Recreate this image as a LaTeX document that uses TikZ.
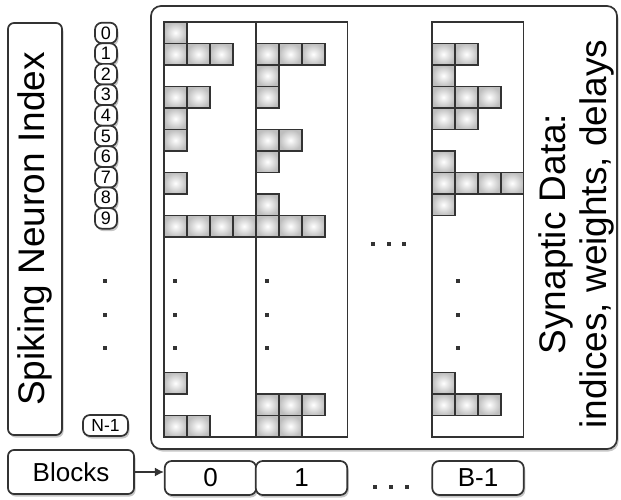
\documentclass[tikz,border=0pt]{standalone}
\usepackage{fontspec}
\setmainfont{Liberation Sans}
\usepackage{tikz}
\usetikzlibrary{arrows.meta,shadows}
\definecolor{EdgeGray}{RGB}{51,51,51}
\definecolor{CellGray}{RGB}{190,190,190}

\begin{document}
\begin{tikzpicture}[x=1pt,y=-1pt,>=Latex,
  rbox/.style={draw=EdgeGray,line width=1.7pt,rounded corners=6pt,fill=white,
    drop shadow={shadow xshift=1.5pt,shadow yshift=-2.5pt,opacity=0.45}},
  cell/.style={draw=EdgeGray,line width=1.6pt,inner color=white,outer color=CellGray},
  blockframe/.style={draw=EdgeGray,line width=1.7pt}]
  \useasboundingbox (0,0) rectangle (621,500);
  % synaptic data panel
  \path[rbox,rounded corners=10pt] (151,6) rectangle (617,449);
  \node[rbox,rotate=90,minimum width=412pt,minimum height=54pt,
    font=\fontsize{37}{40}\selectfont] (index) at (35,229) {Spiking Neuron Index};
  \foreach \i in {0,...,9}
    \node[rbox,minimum width=22pt,minimum height=20.6pt,inner sep=0pt,rounded corners=7pt,
      font=\fontsize{18}{18}\selectfont] (n\i) at (106,{33+20.6*\i}) {\i};
  \node[rbox,minimum width=45pt,minimum height=21pt,inner sep=0pt,rounded corners=7pt,
    font=\fontsize{17.5}{18}\selectfont] (nlast) at (105.5,425.5) {N-1};
  % blocks
  \foreach \bx in {164,256,432}
    \draw[blockframe] (\bx,22) rectangle ++(91.5,415);
  % synapse cells, rows counted from the top
  \foreach \bx/\r/\n in {164/0/1,164/1/3,164/3/2,164/4/1,164/5/1,164/7/1,164/9/4,
      256/1/3,256/2/1,256/3/1,256/5/2,256/6/1,256/8/1,256/9/3,
      432/1/2,432/2/1,432/3/3,432/4/2,432/6/1,432/7/4,432/8/1}
    \foreach \k in {1,...,\n}
      \shade[cell] ({\bx+(\k-1)*22.9},{22+21.5*\r}) rectangle ++(22.9,21.5);
  % last rows, counted from the bottom
  \foreach \bx/\r/\n in {164/3/1,164/1/2,256/2/3,256/1/2,432/3/1,432/2/3}
    \foreach \k in {1,...,\n}
      \shade[cell] ({\bx+(\k-1)*22.9},{437-21.5*\r}) rectangle ++(22.9,21.5);
  % dots
  \foreach \x in {105,175,267,458}
    \foreach \y in {281,315,348}
      \fill[EdgeGray] (\x-1.7,\y-1.7) rectangle ++(3.4,3.4);
  \foreach \x in {373,389,404}
    \fill[EdgeGray] (\x-1.7,242.3) rectangle ++(3.4,3.4);
  \foreach \x in {375,391,407}
    \fill[EdgeGray] (\x-1.7,485.3) rectangle ++(3.4,3.4);
  \node[rotate=90,align=center,font=\fontsize{37}{41}\selectfont] (syn) at (576,234)
    {Synaptic Data:\\indices, weights, delays};
  % block labels
  \node[rbox,minimum width=126pt,minimum height=44pt,
    font=\fontsize{26}{26}\selectfont] (blocks) at (71,472) {Blocks};
  \node[rbox,minimum width=91.5pt,minimum height=34pt,rounded corners=7pt,
    font=\fontsize{26}{26}\selectfont] (b0) at (210.5,478) {0};
  \node[rbox,minimum width=91.5pt,minimum height=34pt,rounded corners=7pt,
    font=\fontsize{26}{26}\selectfont] (b1) at (301.5,478) {1};
  \node[rbox,minimum width=91.5pt,minimum height=34pt,rounded corners=7pt,
    font=\fontsize{26}{26}\selectfont] (bB) at (478,478) {B-1};
  \draw[-{Latex[length=9pt,width=9pt]},line width=1.5pt,EdgeGray]
    (blocks.east) -- (blocks.east -| b0.west);
\end{tikzpicture}
\end{document}
